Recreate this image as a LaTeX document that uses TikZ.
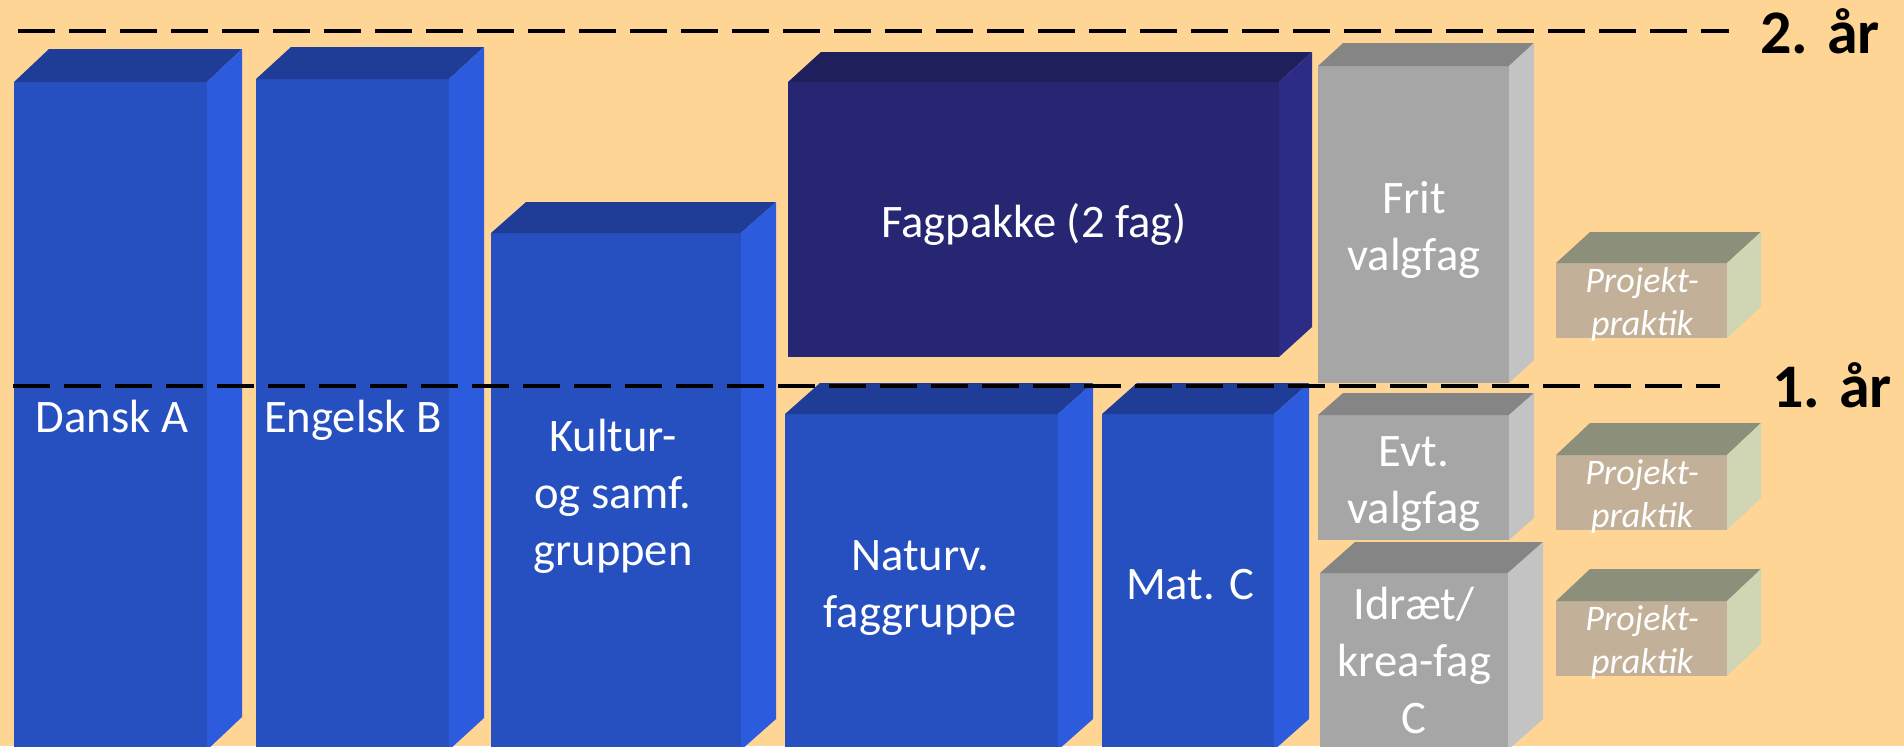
\documentclass[tikz,border=0pt]{standalone}
\usepackage{fontspec}
\setmainfont{Carlito}
\usetikzlibrary{positioning}

\definecolor{bg}{HTML}{FFD596}
\definecolor{blueF}{HTML}{2650C0}
\definecolor{blueT}{HTML}{1F3C96}
\definecolor{blueS}{HTML}{2C5BDE}
\definecolor{navyF}{HTML}{262673}
\definecolor{navyT}{HTML}{1F1F5C}
\definecolor{navyS}{HTML}{2C2C87}
\definecolor{greyF}{HTML}{A6A6A6}
\definecolor{greyT}{HTML}{858585}
\definecolor{greyS}{HTML}{C3C3C3}
\definecolor{tanF}{HTML}{C2B098}
\definecolor{tanT}{HTML}{8C8F7A}
\definecolor{tanS}{HTML}{D0D6B4}

\begin{document}
\begin{tikzpicture}
[x=0.5pt,y=-0.5pt,
lbl/.style={text=white,align=center,anchor=base,inner sep=0pt,
  font=\fontsize{23.3}{28.5}\selectfont},
pp/.style={text=white,align=center,anchor=base,inner sep=0pt,
  font=\fontsize{18}{21.5}\selectfont\itshape},
yr/.style={text=black,anchor=base,inner sep=0pt,
  font=\fontsize{31}{36}\selectfont\bfseries},
yearline/.style={line width=2.4pt,dash pattern=on 18.5pt off 7pt}]
\useasboundingbox (0,0) rectangle (1904,746);
\clip (0,0) rectangle (1904,746);
\fill[bg] (0,0) rectangle (1904,746);
% blocks: left, top, right, bottom, depth x, depth y, colour
\foreach \xa/\ya/\xb/\yb/\dx/\dy/\c in {
  14/82/207/750/35/33/blue, 256/79/449/750/35/32/blue,
  491/233/741/750/35/31/blue, 788/82/1279/357/33/30/navy,
  785/414/1058/750/35/31/blue, 1102/414/1274/750/35/31/blue,
  1318/66/1509/383/25/23/grey, 1318/415/1509/540/25/22/grey,
  1320/573/1508/750/35/31/grey, 1556/263/1727/338/34/31/tan,
  1556/455/1727/530/34/32/tan, 1556/601/1727/676/34/32/tan}
{
  \fill[fill=\c F] (\xa,\ya) rectangle (\xb,\yb);
  \fill[fill=\c T] (\xa,\ya) -- ++(\dx,-\dy) -- ({\xb+\dx},{\ya-\dy}) -- (\xb,\ya) -- cycle;
  \fill[fill=\c S] (\xb,\ya) -- ++(\dx,-\dy) -- ({\xb+\dx},{\yb-\dy}) -- (\xb,\yb) -- cycle;
}
% year lines
\draw[yearline] (18,31) -- (1729,31);
\draw[yearline] (13,386) -- (1720,386);
\node[yr] (aar2) at (1820,53) {2. år};
\node[yr] (aar1) at (1832,407) {1. år};
% subjects (multi-line nodes sit on their last line)
\node[lbl] (dansk) at (112,432) {Dansk A};
\node[lbl] (engelsk) at (353,432) {Engelsk B};
\node[lbl] (kultur) at (613,565) {Kultur-\\og samf.\\gruppen};
\node[lbl] (fagpakke) at (1034,237) {Fagpakke (2 fag)};
\node[lbl] (frit) at (1414,270) {Frit\\valgfag};
\node[lbl] (naturv) at (920,627) {Naturv.\\faggruppe};
\node[lbl] (mat) at (1190,599) {Mat. C};
\node[lbl] (evt) at (1414,523) {Evt.\\valgfag};
\node[lbl] (idraet) at (1414,733) {Idræt/\\krea-fag\\C};
\node[pp] (praktik1) at (1642,335) {Projekt-\\praktik};
\node[pp] (praktik2) at (1642,527) {Projekt-\\praktik};
\node[pp] (praktik3) at (1642,673) {Projekt-\\praktik};
\end{tikzpicture}
\end{document}
